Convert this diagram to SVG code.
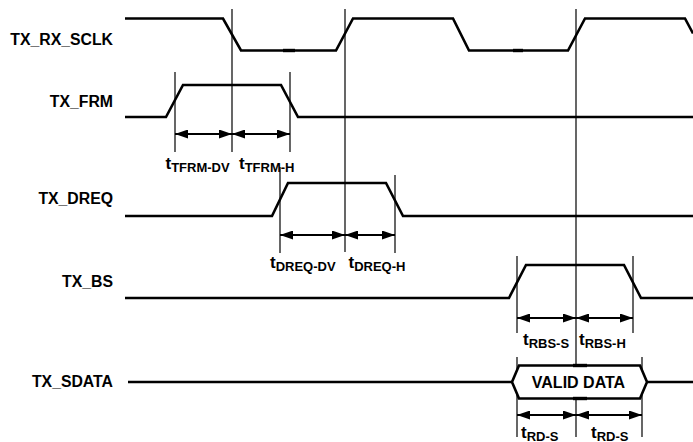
<svg xmlns="http://www.w3.org/2000/svg" width="693" height="442" viewBox="0 0 693 442">
<style>
.sig{fill:none;stroke:#000;stroke-width:2.6;stroke-linejoin:miter}
.guide{stroke:#000;stroke-width:1.2}
.arr{stroke:#000;stroke-width:2;marker-start:url(#ah);marker-end:url(#ah)}
.lbl{font-family:"Liberation Sans",Arial,sans-serif;font-weight:bold;font-size:15.8px;fill:#000}
.t{font-family:"Liberation Sans",Arial,sans-serif;font-weight:bold;font-size:17px;fill:#000}
.sub{font-size:13px}
.mark{stroke:#000;stroke-width:3.4}
</style>
<defs>
<marker id="ah" viewBox="0 0 13 9" refX="13" refY="4.5" markerWidth="13" markerHeight="9" markerUnits="userSpaceOnUse" orient="auto-start-reverse">
<path d="M0,0 L13,4.5 L0,9 z" fill="#000"/>
</marker>
</defs>
<rect width="693" height="442" fill="#fff"/>

<g id="guides">
<line class="guide" x1="232" y1="9" x2="232" y2="152"/>
<line class="guide" x1="345" y1="9" x2="345" y2="252"/>
<line class="guide" x1="576" y1="9" x2="576" y2="437"/>
<line class="guide" x1="175" y1="72" x2="175" y2="152"/>
<line class="guide" x1="290" y1="72" x2="290" y2="152"/>
<line class="guide" x1="280" y1="167" x2="280" y2="253"/>
<line class="guide" x1="395" y1="175" x2="395" y2="253"/>
<line class="guide" x1="517" y1="256" x2="517" y2="333"/>
<line class="guide" x1="633" y1="256" x2="633" y2="333"/>
<line class="guide" x1="517" y1="357" x2="517" y2="437"/>
<line class="guide" x1="642" y1="357" x2="642" y2="437"/>
</g>

<g id="TX_RX_SCLK">
<text class="lbl" x="113" y="45" text-anchor="end">TX_RX_SCLK</text>
<path class="sig" d="M125,18.5 H223 L241,50.5 H336 L353,18.5 H453 L469,50.5 H568 L585,18.5 H685 L693,33.5"/>
<line class="mark" x1="283" y1="50.5" x2="295" y2="50.5"/>
<line class="mark" x1="513" y1="50.5" x2="523" y2="50.5"/>
</g>

<g id="TX_FRM">
<text class="lbl" x="113" y="107" text-anchor="end">TX_FRM</text>
<path class="sig" d="M125,117 H166 L183,85 H281 L298,117 H693"/>
</g>

<g id="TX_DREQ">
<text class="lbl" x="113" y="204" text-anchor="end">TX_DREQ</text>
<path class="sig" d="M125,216 H272 L288,183 H386 L403,216 H693"/>
</g>

<g id="TX_BS">
<text class="lbl" x="113" y="286.5" text-anchor="end">TX_BS</text>
<path class="sig" d="M125,298 H509 L526,265 H624 L641,298 H693"/>
</g>

<g id="TX_SDATA">
<text class="lbl" x="113" y="387" text-anchor="end">TX_SDATA</text>
<path class="sig" d="M128,382 H512"/>
<path class="sig" d="M647,382 H693"/>
<path class="sig" d="M512,382 L519,365.5 H640 L647,382 L640,398.5 H519 Z" style="fill:#fff"/>
<line class="mark" x1="573" y1="365.5" x2="587" y2="365.5"/>
<line class="mark" x1="573" y1="398.5" x2="587" y2="398.5"/>
<text class="lbl" x="578.5" y="387.5" text-anchor="middle" style="font-size:16px">VALID DATA</text>
</g>

<g id="connectors">
<line class="arr" x1="175" y1="134" x2="232" y2="134"/>
<line class="arr" x1="232" y1="134" x2="290" y2="134"/>
<line class="arr" x1="280" y1="235" x2="345" y2="235"/>
<line class="arr" x1="345" y1="235" x2="395" y2="235"/>
<line class="arr" x1="517" y1="318" x2="576" y2="318"/>
<line class="arr" x1="576" y1="318" x2="633" y2="318"/>
<line class="arr" x1="517" y1="415" x2="576" y2="415"/>
<line class="arr" x1="576" y1="415" x2="642" y2="415"/>
</g>

<g id="timing-labels">
<text class="t" x="165.5" y="168.5">t<tspan class="sub" dy="3">TFRM-DV</tspan></text>
<text class="t" x="239" y="168.5">t<tspan class="sub" dy="3">TFRM-H</tspan></text>
<text class="t" x="270" y="268">t<tspan class="sub" dy="3">DREQ-DV</tspan></text>
<text class="t" x="348.5" y="268">t<tspan class="sub" dy="3">DREQ-H</tspan></text>
<text class="t" x="523" y="345">t<tspan class="sub" dy="3">RBS-S</tspan></text>
<text class="t" x="579" y="345">t<tspan class="sub" dy="3">RBS-H</tspan></text>
<text class="t" x="521" y="437.5">t<tspan class="sub" dy="3">RD-S</tspan></text>
<text class="t" x="591" y="437.5">t<tspan class="sub" dy="3">RD-S</tspan></text>
</g>
</svg>
